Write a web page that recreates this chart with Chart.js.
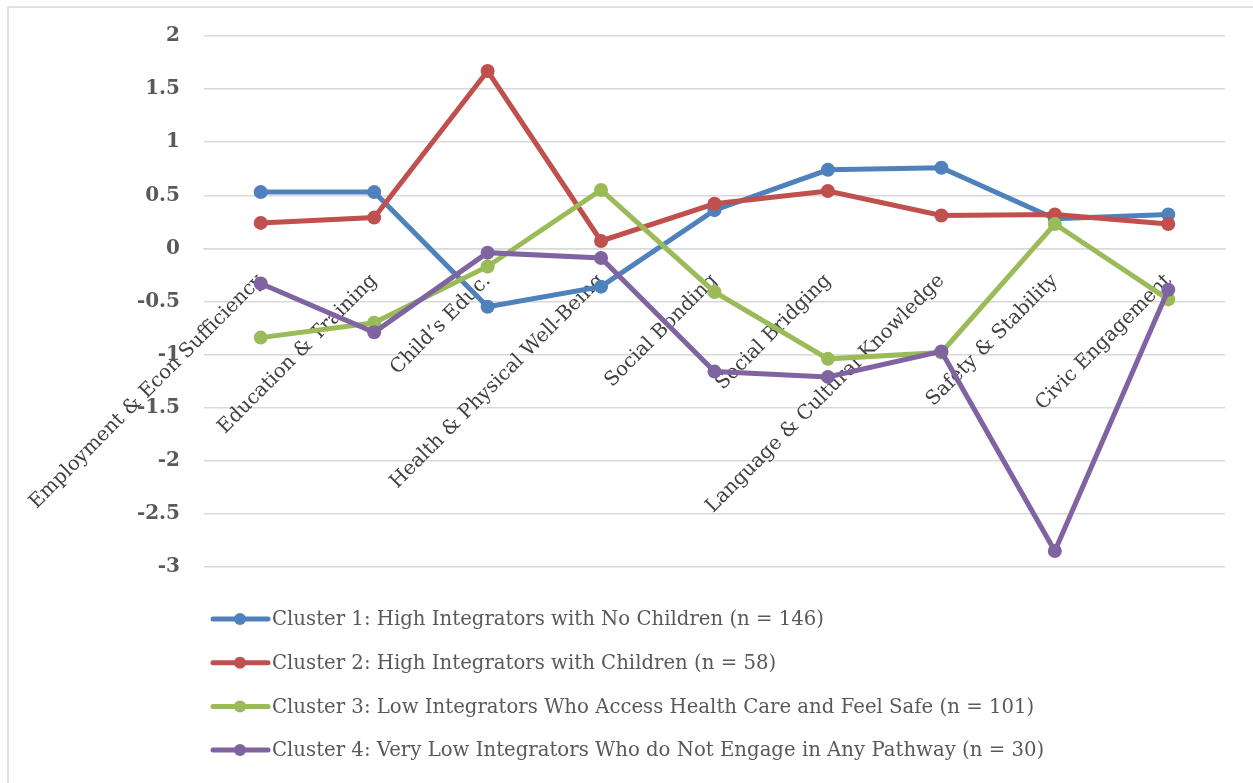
<!DOCTYPE html>
<html>
<head>
<meta charset="utf-8">
<script src="https://cdn.jsdelivr.net/npm/chart.js@4/dist/chart.umd.min.js"></script>
<style>
  html, body { margin: 0; padding: 0; background: #ffffff; }
  #wrap { position: relative; width: 1253px; height: 783px; overflow: hidden; }
  canvas { display: block; }
</style>
</head>
<body>
<div id="wrap"><canvas id="chart" width="1253" height="783"></canvas></div>
<script>
// Integration pathway domains (x axis)
const categories = [
  "Employment & Econ Sufficiency",
  "Education & Training",
  "Child\u2019s Educ.",
  "Health & Physical Well-Being",
  "Social Bonding",
  "Social Bridging",
  "Language & Cultural Knowledge",
  "Safety & Stability",
  "Civic Engagement"
];

// Series names
const seriesNames = [
  "Cluster 1: High Integrators with No Children (n = 146)",
  "Cluster 2: High Integrators with Children (n = 58)",
  "Cluster 3: Low Integrators Who Access Health Care and Feel Safe (n = 101)",
  "Cluster 4: Very Low Integrators Who do Not Engage in Any Pathway (n = 30)"
];

// Standardized scores per cluster
const cluster1 = [0.53, 0.53, -0.55, -0.36, 0.36, 0.74, 0.76, 0.28, 0.32];
const cluster2 = [0.24, 0.29, 1.67, 0.07, 0.42, 0.54, 0.31, 0.32, 0.23];
const cluster3 = [-0.84, -0.70, -0.17, 0.55, -0.41, -1.04, -0.98, 0.23, -0.48];
const cluster4 = [-0.33, -0.79, -0.04, -0.09, -1.16, -1.21, -0.97, -2.85, -0.39];

// Y axis range and step
const yMin = -3;
const yMax = 2;
const yStep = 0.5;

const colors = ["#4f81bd", "#c0504d", "#9bbb59", "#8064a2"];
const seriesValues = [cluster1, cluster2, cluster3, cluster4];

const FONT = "'DejaVu Serif', 'Liberation Serif', serif";
const TEXT = "#595959";
const GRID = "#d9d9d9";

// Frame around the chart
const framePlugin = {
  id: "frame",
  beforeDraw(chart) {
    const ctx = chart.ctx;
    ctx.save();
    ctx.strokeStyle = GRID;
    ctx.lineWidth = 1.5;
    ctx.beginPath();
    ctx.moveTo(8, 800);
    ctx.lineTo(8, 7);
    ctx.lineTo(1260, 7);
    ctx.stroke();
    ctx.restore();
  }
};

// Vertical legend below the plot
const legendPlugin = {
  id: "stackedLegend",
  afterDraw(chart) {
    const ctx = chart.ctx;
    const x0 = 213, y0 = 619, rowH = 43.7;
    ctx.save();
    ctx.font = "19.7px " + FONT;
    ctx.textBaseline = "middle";
    ctx.textAlign = "left";
    chart.data.datasets.forEach((ds, i) => {
      const y = y0 + i * rowH;
      ctx.strokeStyle = ds.borderColor;
      ctx.lineWidth = 5;
      ctx.lineCap = "round";
      ctx.beginPath();
      ctx.moveTo(x0, y);
      ctx.lineTo(x0 + 55, y);
      ctx.stroke();
      ctx.fillStyle = ds.borderColor;
      ctx.beginPath();
      ctx.arc(x0 + 27, y, 6, 0, Math.PI * 2);
      ctx.fill();
      ctx.fillStyle = TEXT;
      ctx.fillText(ds.label, x0 + 59, y + 1);
    });
    ctx.restore();
  }
};

const datasets = seriesNames.map((name, i) => ({
  label: name,
  data: seriesValues[i],
  borderColor: colors[i],
  backgroundColor: colors[i],
  pointBackgroundColor: colors[i],
  pointBorderColor: colors[i],
  borderWidth: 5,
  pointRadius: 7,
  pointHoverRadius: 7,
  pointBorderWidth: 0,
  tension: 0,
  order: seriesNames.length - i
}));

new Chart(document.getElementById("chart"), {
  type: "line",
  data: { labels: categories, datasets: datasets },
  options: {
    responsive: false,
    animation: false,
    layout: { padding: { left: 0, top: 36, right: 28, bottom: 216 } },
    plugins: {
      legend: { display: false },
      tooltip: { enabled: false }
    },
    scales: {
      x: {
        type: "category",
        offset: true,
        position: { y: 0 },
        grid: { display: false, drawTicks: false },
        border: { display: true, color: GRID, width: 1.5 },
        ticks: {
          autoSkip: false,
          minRotation: 45,
          maxRotation: 45,
          padding: 21,
          color: "#404040",
          font: { family: FONT, size: 19.7 }
        }
      },
      y: {
        min: yMin,
        max: yMax,
        grid: { color: GRID, lineWidth: 1.5, drawTicks: false },
        border: { display: false },
        afterFit(scale) { scale.width = 204; },
        ticks: {
          stepSize: yStep,
          padding: 24,
          color: TEXT,
          font: { family: FONT, size: 20, weight: "bold" },
          callback: (v) => String(Math.round(v * 10) / 10)
        }
      }
    }
  },
  plugins: [framePlugin, legendPlugin]
});
</script>
</body>
</html>
